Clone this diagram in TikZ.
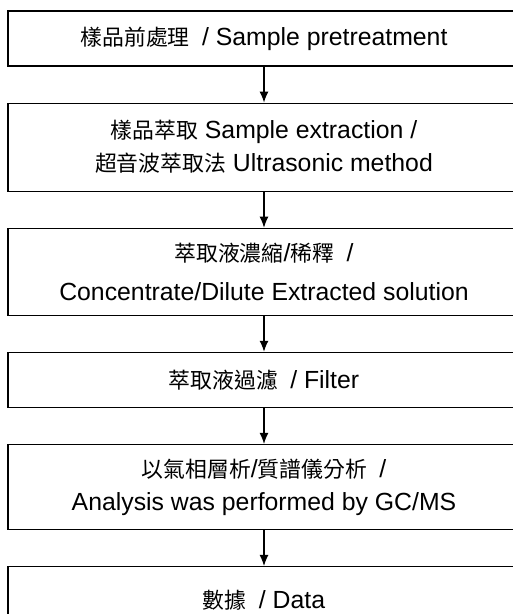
\documentclass[tikz,border=0pt]{standalone}
\usepackage{fontspec}
\setmainfont{Liberation Sans}
\newfontfamily\cjk[Scale=0.88]{Noto Sans CJK TC}
\usetikzlibrary{arrows.meta,positioning}

\begin{document}
\begin{tikzpicture}[x=1pt,y=-1pt,node distance=36pt,
		box/.style={draw, line width=1.1pt, minimum width=512pt, inner sep=0pt, align=center, font=\fontsize{24.8}{33}\selectfont},
		>={Latex[length=11pt,width=9pt]}]
		\clip (0,0) rectangle (513,614);
		\node[box,minimum height=55pt] (0) at (264,38.5) {{\cjk 樣品前處理}\enspace/ Sample pretreatment};
		\node[box,minimum height=88pt] (1) [below=of 0] {{\cjk 樣品萃取} Sample extraction /\\{\cjk 超音波萃取法} Ultrasonic method};
		\node[box,minimum height=87pt,font=\fontsize{24.8}{39}\selectfont] (2) [below=of 1] {{\cjk 萃取液濃縮}/{\cjk 稀釋}\enspace/\\Concentrate/Dilute Extracted solution};
		\node[box,minimum height=55pt] (3) [below=of 2] {{\cjk 萃取液過濾}\enspace/ Filter};
		\node[box,minimum height=85pt] (4) [below=of 3] {{\cjk 以氣相層析}/{\cjk 質譜儀分析}\enspace/\\Analysis was performed by GC/MS};
		\node[box,minimum height=68pt] (5) [below=of 4] {{\cjk 數據}\enspace/ Data};
		\path[->,line width=1.1pt]
			(0) edge (1)
			(1) edge (2)
			(2) edge (3)
			(3) edge (4)
			(4) edge (5);
	\end{tikzpicture}
\end{document}
